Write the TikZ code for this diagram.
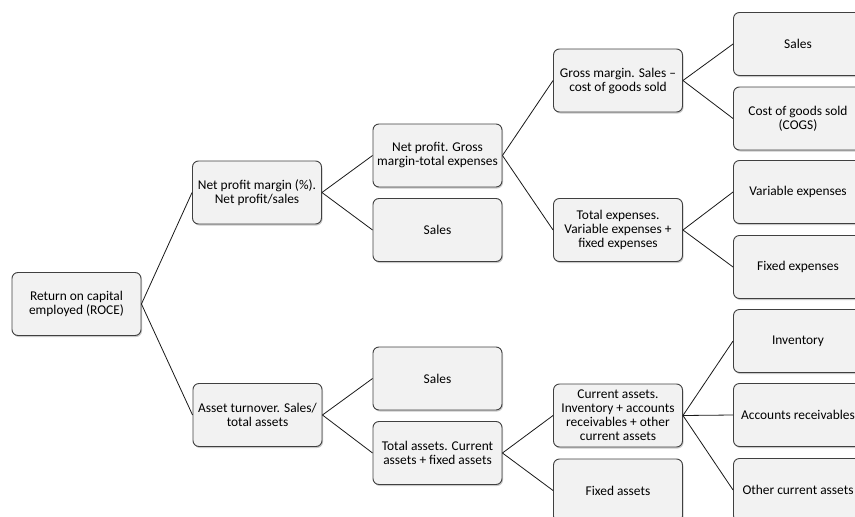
\documentclass[tikz,border=0pt]{standalone}
\usepackage{fontspec}
\setmainfont{Carlito}
\usetikzlibrary{shadows}

\tikzset{
  box/.style={draw=black!75, fill=black!5, rounded corners=6pt, line width=0.9pt,
    minimum width=129pt, minimum height=63pt, align=center, inner sep=2pt,
    font=\fontsize{13.4}{14}\selectfont,
    drop shadow={shadow xshift=1pt, shadow yshift=-1.5pt, opacity=.35, fill=black!60}},
  link/.style={draw=black!90, line width=0.8pt}
}

\begin{document}
\begin{tikzpicture}[x=1pt, y=-1pt]
    \useasboundingbox (0,0) rectangle (855,517);
    \clip (0,0) rectangle (855,517);

    % first levels
    \node[box] (roce) at (76.5,304) {Return on capital\\employed (ROCE)};
    \node[box] (margin) at (257,192.5) {Net profit margin (\%).\\Net profit/sales};
    \node[box] (turnover) at (257.5,415) {Asset turnover. Sales/\\total assets};

    % profit side
    \node[box] (netprofit) at (437.5,155.5) {Net profit. Gross\\margin-total expenses};
    \node[box] (salesA) at (437.5,230) {Sales};
    \node[box] (gross) at (618,80.5) {Gross margin. Sales --\\cost of goods sold};
    \node[box] (totexp) at (618,230) {Total expenses.\\Variable expenses +\\fixed expenses};
    \node[box] (salesC) at (798,44) {Sales};
    \node[box] (cogs) at (798,118.5) {Cost of goods sold\\(COGS)};
    \node[box] (varexp) at (798,192) {Variable expenses};
    \node[box] (fixexp) at (798,267) {Fixed expenses};

    % asset side
    \node[box] (salesB) at (437.5,378.5) {Sales};
    \node[box] (totassets) at (437.5,453) {Total assets. Current\\assets + fixed assets};
    \node[box] (curassets) at (618,415.5) {Current assets.\\Inventory + accounts\\receivables + other\\current assets};
    \node[box] (fixassets) at (618,490.5) {Fixed assets};
    \node[box] (inventory) at (798,341) {Inventory};
    \node[box] (receiv) at (798,415) {Accounts receivables};
    \node[box] (othercur) at (798,490) {Other current assets};

    % connectors
    \foreach \a/\b in {roce/margin, roce/turnover, margin/netprofit, margin/salesA,
        turnover/salesB, turnover/totassets, netprofit/gross, netprofit/totexp,
        gross/salesC, gross/cogs, totexp/varexp, totexp/fixexp,
        totassets/curassets, totassets/fixassets,
        curassets/inventory, curassets/receiv, curassets/othercur}
      \draw[link] (\a.east) -- (\b.west);
\end{tikzpicture}
\end{document}
